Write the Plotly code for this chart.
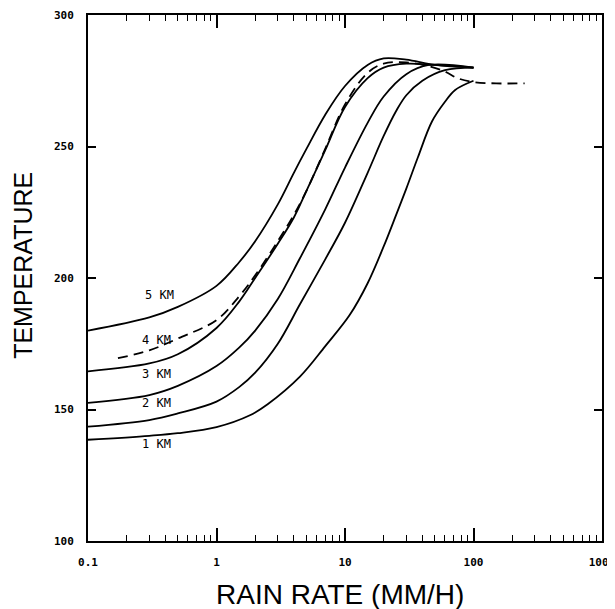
import math
import plotly.graph_objects as go

# Data (rain rate mm/h, temperature K)
km5_x = [0.1, 0.3, 0.5, 1.0, 1.5, 2.0, 3.0, 4.0, 5.0, 7.0, 10.0, 15.0, 20.0, 30.0, 50.0, 100.0]
km5_y = [180, 185, 189, 197, 206, 214, 228, 240, 249, 262, 273, 281, 283.5, 283, 281, 280]

km4_x = [0.1, 0.3, 0.5, 1.0, 1.5, 2.0, 3.0, 4.0, 5.0, 7.0, 10.0, 15.0, 20.0, 30.0, 50.0, 100.0]
km4_y = [164.5, 167.5, 171, 181, 191, 200, 213, 223, 233, 248.5, 265, 276, 280, 281.5, 281, 280]

km3_x = [0.1, 0.3, 0.5, 1.0, 1.5, 2.0, 3.0, 4.46, 7.0, 10.0, 15.0, 20.0, 30.0, 45.0, 100.0]
km3_y = [152.5, 155.5, 159, 166.5, 173.5, 180, 192, 207.5, 226, 242, 259, 269, 277.5, 281, 280]

km2_x = [0.1, 0.3, 0.5, 1.0, 1.5, 2.0, 3.0, 4.46, 7.0, 10.0, 15.0, 20.0, 25.0, 30.0, 40.0, 60.0, 100.0]
km2_y = [143.5, 146, 148.5, 153, 158.5, 164, 175, 190, 207, 221, 240, 254, 263.5, 269.5, 275, 279, 280]

km1_x = [0.1, 0.3, 0.5, 1.0, 1.82, 2.5, 4.46, 7.0, 10.9, 15.0, 20.0, 25.0, 30.0, 37.0, 47.5, 60.0, 72.0, 100.0]
km1_y = [138.5, 140, 141, 143.3, 147.8, 152, 162.5, 174, 186, 198, 212, 224, 234, 246, 259.5, 267, 271.5, 275]

dash_x = [0.171, 0.3, 0.5, 1.0, 1.5, 2.0, 3.0, 4.0, 5.0, 7.0, 10.0, 15.0, 20.0, 30.0, 45.0, 60.0, 75.0, 100.0, 150.0, 250.0]
dash_y = [169.5, 172.5, 177, 184, 193, 201, 214, 224, 233, 249, 266, 278, 281.5, 282, 280.5, 278.5, 276, 274.5, 274, 274]

label_text = ["5 KM", "4 KM", "3 KM", "2 KM", "1 KM"]
label_x = [0.363, 0.344, 0.344, 0.344, 0.344]
label_y = [193.5, 176.3, 163.4, 152.3, 137]

x_tickvals = [0.1, 1, 10, 100, 1000]
x_ticktext = ["0.1", "1", "10", "100", "1000"]
y_tickvals = [100, 150, 200, 250, 300]

fig = go.Figure()
for xs, ys in [(km5_x, km5_y), (km4_x, km4_y), (km3_x, km3_y), (km2_x, km2_y), (km1_x, km1_y)]:
    fig.add_trace(go.Scatter(x=xs, y=ys, mode="lines",
                             line=dict(color="black", width=1.8, shape="spline", smoothing=1.0),
                             showlegend=False, hoverinfo="skip"))
fig.add_trace(go.Scatter(x=dash_x, y=dash_y, mode="lines",
                         line=dict(color="black", width=1.8, dash="10px,6px", shape="spline", smoothing=1.0),
                         showlegend=False, hoverinfo="skip"))

for t, lx, ly in zip(label_text, label_x, label_y):
    fig.add_annotation(x=math.log10(lx), y=ly, xref="x", yref="y", text=t, showarrow=False,
                       font=dict(family="DejaVu Sans Mono", size=12, color="black"))

# axis titles
fig.add_annotation(x=0.49, y=-0.101, xref="paper", yref="paper", text="RAIN RATE (MM/H)",
                   showarrow=False, xanchor="center", yanchor="middle",
                   font=dict(family="Liberation Sans", size=28, color="black"))
fig.add_annotation(x=-0.1265, y=0.525, xref="paper", yref="paper", text="TEMPERATURE",
                   showarrow=False, xanchor="center", yanchor="middle", textangle=-90,
                   font=dict(family="Liberation Sans", size=25, color="black"))

fig.update_xaxes(type="log", range=[-1, 3], tickvals=x_tickvals, ticktext=x_ticktext,
                 ticks="inside", ticklen=13, tickwidth=1.6, tickcolor="black",
                 minor=dict(ticks="inside", ticklen=6, tickwidth=1.4, tickcolor="black", dtick="D1"),
                 showline=True, linecolor="black", linewidth=2, mirror="allticks",
                 showgrid=False, zeroline=False, automargin=False, ticklabelstandoff=10,
                 ticklabeloverflow="allow",
                 tickfont=dict(family="DejaVu Sans Mono", size=11, color="black", weight="bold"))
fig.update_yaxes(range=[100, 300], tickvals=y_tickvals,
                 ticks="inside", ticklen=8, tickwidth=1.6, tickcolor="black",
                 showline=True, linecolor="black", linewidth=2, mirror="allticks",
                 showgrid=False, zeroline=False, automargin=False, ticklabelstandoff=10,
                 ticklabeloverflow="allow",
                 tickfont=dict(family="DejaVu Sans Mono", size=11, color="black", weight="bold"))

# page body adds ~8px offset; compensate so the plot area lands at x 88-602, y 15-541
fig.update_layout(width=607, height=601, paper_bgcolor="white", plot_bgcolor="white",
                  margin=dict(l=80, r=13, t=7, b=68))
fig.write_html("out.html")
